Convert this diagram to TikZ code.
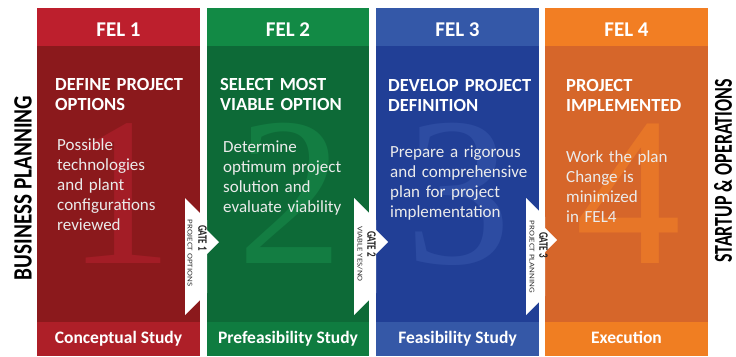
\documentclass[tikz,border=0pt]{standalone}
\usepackage{fontspec}
\setmainfont{Carlito}
\newfontfamily\numfont{Liberation Serif}
\definecolor{ha}{HTML}{BD1F2D}\definecolor{ba}{HTML}{8B191C}\definecolor{fa}{HTML}{AE1F28}\definecolor{na}{HTML}{A31D26}
\definecolor{hb}{HTML}{128A45}\definecolor{bb}{HTML}{0D6A37}\definecolor{fb}{HTML}{0F7C40}\definecolor{nb}{HTML}{137D42}
\definecolor{hc}{HTML}{3458A8}\definecolor{bc}{HTML}{213F96}\definecolor{fc}{HTML}{3558A7}\definecolor{nc}{HTML}{2D4CA2}
\definecolor{hd}{HTML}{F27E23}\definecolor{bd}{HTML}{D6662A}\definecolor{fd}{HTML}{F07E22}\definecolor{nd}{HTML}{E77628}
\tikzset{
  numstyle/.style={anchor=base, inner sep=0, font=\numfont\fontsize{212}{212}\selectfont},
  hdrstyle/.style={anchor=base, inner sep=0, text=white, font=\bfseries\fontsize{21}{21}\selectfont},
  titlestyle/.style={anchor=base west, inner sep=0, text=white, align=left, text width=155pt, font=\bfseries\fontsize{18.5}{20}\selectfont},
  bodystyle/.style={anchor=base west, inner sep=0, text=white!92!black, align=left, text width=150pt, font=\fontsize{17}{20}\selectfont},
  ftrstyle/.style={anchor=base, inner sep=0, text=white, font=\bfseries\fontsize{17.5}{17.5}\selectfont},
  gatebox/.style={fill=white},
  gatemain/.style={anchor=center, inner sep=0, rotate=-90, text=black!85, font=\bfseries\fontsize{9.5}{9.5}\selectfont},
  gatesub/.style={anchor=center, inner sep=0, rotate=-90, text=black!80, font=\fontsize{6.4}{6.4}\selectfont},
  sidestyle/.style={anchor=center, inner sep=0, rotate=90, text=black, font=\bfseries\fontsize{23}{23}\selectfont}
}
\begin{document}
\begin{tikzpicture}[x=1pt,y=-1pt]
\useasboundingbox[fill=white] (0,0) rectangle (736,356);
% column 1
\fill[ha] (37,8) rectangle (200,46);
\fill[ba] (37,46) rectangle (200,322);
\fill[fa] (37,322) rectangle (200,356);
\node[numstyle, text=na] (n1) at (120,263) {1};
\node[hdrstyle] (h1) at (118.5,36.5) {FEL 1};
\node[titlestyle] (t1) at (55,90) {DEFINE PROJECT\\OPTIONS};
\node[bodystyle] (b1) at (57,150) {Possible\\technologies\\and plant\\configurations\\reviewed};
\node[ftrstyle] (f1) at (118.5,343) {Conceptual Study};
% column 2
\fill[hb] (207,8) rectangle (369,46);
\fill[bb] (207,46) rectangle (369,322);
\fill[fb] (207,322) rectangle (369,356);
\node[numstyle, text=nb] (n2) at (290,263) {2};
\node[hdrstyle] (h2) at (288,36.5) {FEL 2};
\node[titlestyle] (t2) at (220,90) {SELECT MOST\\VIABLE OPTION};
\node[bodystyle] (b2) at (223,152) {Determine\\optimum project\\solution and\\evaluate viability};
\node[ftrstyle] (f2) at (288,343) {Prefeasibility Study};
% column 3
\fill[hc] (376,8) rectangle (539,46);
\fill[bc] (376,46) rectangle (539,322);
\fill[fc] (376,322) rectangle (539,356);
\node[numstyle, text=nc] (n3) at (458,263) {3};
\node[hdrstyle] (h3) at (457.5,36.5) {FEL 3};
\node[titlestyle] (t3) at (388,91) {DEVELOP PROJECT\\DEFINITION};
\node[bodystyle] (b3) at (390,157) {Prepare a rigorous\\and comprehensive\\plan for project\\implementation};
\node[ftrstyle] (f3) at (457.5,343) {Feasibility Study};
% column 4
\fill[hd] (545,8) rectangle (708,46);
\fill[bd] (545,46) rectangle (708,322);
\fill[fd] (545,322) rectangle (708,356);
\node[numstyle, text=nd] (n4) at (628,263) {4};
\node[hdrstyle] (h4) at (626.5,36.5) {FEL 4};
\node[titlestyle] (t4) at (566,91) {PROJECT\\IMPLEMENTED};
\node[bodystyle] (b4) at (566,162) {Work the plan\\Change is\\minimized\\in FEL4};
\node[ftrstyle] (f4) at (626.5,343) {Execution};
% gates
\fill[gatebox] (185,198) -- (207,220) -- (207,230) -- (219,242) -- (207,254) -- (207,293) -- (185,315) -- cycle;
\node[gatemain] (g1) at (202.5,238) {\scalebox{0.95}[1.35]{GATE 1}};
\node[gatesub] (s1) at (190,253) {\scalebox{1.4}[1.15]{PROJECT OPTIONS}};
\fill[gatebox] (354,198) -- (376,220) -- (376,230) -- (388,242) -- (376,254) -- (376,293) -- (354,315) -- cycle;
\node[gatemain] (g2) at (371.5,244) {\scalebox{0.95}[1.35]{GATE 2}};
\node[gatesub] (s2) at (360,254) {\scalebox{1.4}[1.15]{VIABLE YES/NO}};
\fill[gatebox] (526,198) -- (545,217) -- (545,228) -- (557,240) -- (545,252) -- (545,296) -- (526,315) -- cycle;
\node[gatemain] (g3) at (543.5,245) {\scalebox{0.95}[1.35]{GATE 3}};
\node[gatesub] (s3) at (532,257) {\scalebox{1.4}[1.15]{PROJECT PLANNING}};
% side labels
\node[sidestyle] (bp) at (23,188) {\scalebox{0.92}[1.15]{BUSINESS PLANNING}};
\node[sidestyle] (so) at (723,171) {\scalebox{0.78}[1.12]{STARTUP \& OPERATIONS}};
\end{tikzpicture}
\end{document}
